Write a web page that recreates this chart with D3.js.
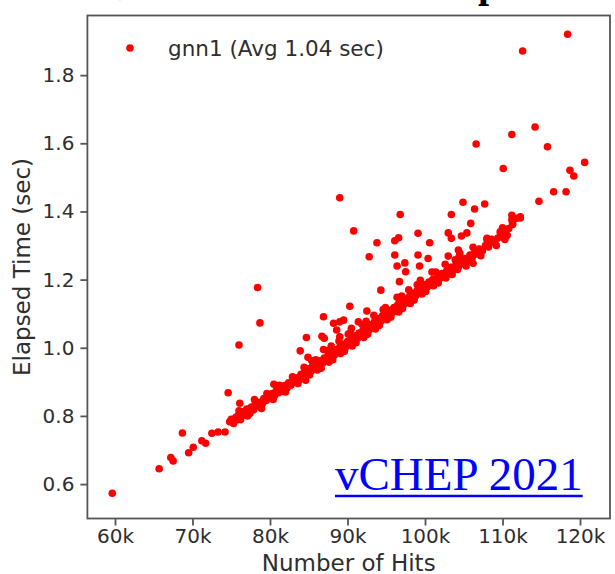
<!DOCTYPE html>
<html>
<head>
<meta charset="utf-8">
<script src="https://cdn.jsdelivr.net/npm/d3@7"></script>
<style>
  body { margin: 0; background: #fff; }
  svg { display: block; }
</style>
</head>
<body>
<svg id="chart"></svg>
<script>
const width = 615
const height = 574
const margin = { top: 15.5, right: 5, bottom: 55.5, left: 87.4 }

// number of hits (thousands) and elapsed time (sec)
// sparse points and outliers
const outlierHits = [59.65, 65.7, 67.2, 67.5, 68.7, 69.5, 70.1, 71.2, 71.7, 72.5, 73.3, 74.2, 74.6, 74.8, 75.7, 76.1, 76.6, 77.4,
  76.0, 78.4, 78.7, 90.3, 92.5, 86.9, 88.2, 89.0, 89.5, 88.6, 90.5, 91.4, 84.7, 86.7, 87.0, 89.0, 83.9, 86.9, 84.9, 80.5,
  89.0, 90.8, 96.8, 93.8, 92.8, 96.1, 96.6, 99.1, 100.6, 96.1, 97.4, 97.5, 96.4, 99.1, 99.3, 100.4, 96.7, 94.3,
  103.4, 104.9, 106.4, 107.7, 105.9, 103.0, 103.4, 104.7, 105.4, 103.0, 104.3, 104.5, 106.2, 109.7, 110.3,
  111.2, 111.8, 112.3, 111.3, 108.0, 108.6,
  118.4, 112.6, 114.2, 111.2, 115.8, 106.6, 120.6, 118.7, 119.2, 110.1, 116.6, 118.2, 114.7, 111.2, 112.3]
const outlierTimes = [0.573, 0.645, 0.678, 0.668, 0.750, 0.692, 0.708, 0.727, 0.720, 0.749, 0.753, 0.753, 0.868, 0.783, 0.788, 0.837, 0.802, 0.807,
  1.008, 1.177, 1.073, 1.122, 1.108, 1.091, 1.072, 1.076, 1.081, 1.052, 1.057, 1.076, 1.030, 1.034, 1.028, 1.032, 0.991, 0.995, 0.972, 0.893,
  1.440, 1.343, 1.391, 1.308, 1.267, 1.314, 1.323, 1.336, 1.308, 1.272, 1.249, 1.223, 1.240, 1.272, 1.240, 1.262, 1.194, 1.169,
  1.391, 1.427, 1.407, 1.422, 1.365, 1.337, 1.321, 1.328, 1.337, 1.269, 1.287, 1.277, 1.248, 1.340, 1.318,
  1.375, 1.380, 1.381, 1.365, 1.321, 1.318,
  1.920, 1.871, 1.648, 1.626, 1.590, 1.598, 1.544, 1.521, 1.504, 1.526, 1.458, 1.458, 1.430, 1.389, 1.384]

// the dense band
const bandHits = [75.0, 75.3, 75.6, 75.9, 76.2, 76.5, 76.8, 77.0, 77.3, 77.6, 77.9, 78.1, 78.4, 78.7, 79.0, 79.2, 79.5, 79.8,
  80.0, 80.3, 80.6, 80.8, 81.1, 81.4, 81.6, 81.9, 82.2, 82.4, 82.7, 83.0, 83.2, 83.5, 83.8, 84.0, 84.3, 84.5, 84.8,
  85.0, 85.3, 85.5, 85.8, 86.0, 86.3, 86.5, 86.8, 87.0, 87.3, 87.5, 87.8, 88.0, 88.3, 88.5, 88.8, 89.0, 89.3, 89.5, 89.8,
  90.0, 90.3, 90.5, 90.8, 91.0, 91.3, 91.5, 91.8, 92.0, 92.3, 92.5, 92.8, 93.0, 93.3, 93.5, 93.8, 94.0, 94.3, 94.5, 94.8,
  95.0, 95.3, 95.5, 95.8, 96.0, 96.3, 96.5, 96.8, 97.0, 97.3, 97.5, 97.8, 98.0, 98.3, 98.5, 98.8, 99.0, 99.3, 99.5, 99.8,
  100.0, 100.3, 100.5, 100.8, 101.0, 101.3, 101.6, 101.9, 102.2, 102.5, 102.8, 103.1, 103.4, 103.7, 104.0, 104.3, 104.6, 104.9,
  105.2, 105.5, 105.8, 106.1, 106.4, 106.7, 107.0, 107.4, 107.8, 108.2, 108.6, 109.0, 109.4, 109.8, 110.3, 110.8, 111.3,
  76.0, 77.1, 78.0, 78.9, 79.6, 80.4, 81.2, 82.0, 82.9, 83.6, 84.4, 85.1, 85.9, 86.6, 87.4, 88.1, 88.9, 89.6, 90.4, 91.1,
  91.9, 92.6, 93.4, 94.1, 94.9, 95.6, 96.4, 97.1, 97.9, 98.6, 99.4, 100.1, 100.9, 101.7, 102.6, 103.5, 104.4, 105.3,
  106.2, 107.2, 108.0, 109.2, 110.0, 110.6,
  84.6, 86.1, 87.6, 89.1, 90.6, 92.1, 93.6, 95.1, 96.6, 98.1, 99.6, 101.1, 102.7, 104.2,
  85.4, 87.9, 90.1, 92.4, 94.6, 97.0, 99.0, 101.4, 103.9]
const bandTimes = [0.790, 0.778, 0.796, 0.801, 0.789, 0.812, 0.805, 0.820, 0.812, 0.826, 0.818, 0.835, 0.829, 0.840, 0.835, 0.851, 0.845, 0.858,
  0.852, 0.866, 0.860, 0.874, 0.868, 0.880, 0.872, 0.889, 0.882, 0.897, 0.890, 0.905, 0.899, 0.912, 0.906, 0.922, 0.915, 0.930, 0.923,
  0.938, 0.931, 0.946, 0.940, 0.953, 0.947, 0.962, 0.955, 0.970, 0.963, 0.978, 0.970, 0.986, 0.979, 0.994, 0.987, 1.002, 0.995, 1.010, 1.003,
  1.018, 1.011, 1.027, 1.019, 1.035, 1.028, 1.043, 1.036, 1.051, 1.044, 1.060, 1.052, 1.068, 1.061, 1.077, 1.069, 1.085, 1.078, 1.094, 1.087,
  1.101, 1.095, 1.110, 1.103, 1.118, 1.111, 1.127, 1.120, 1.135, 1.128, 1.143, 1.137, 1.151, 1.145, 1.160, 1.153, 1.168, 1.162, 1.176, 1.170,
  1.185, 1.178, 1.193, 1.187, 1.200, 1.194, 1.209, 1.203, 1.218, 1.211, 1.226, 1.220, 1.236, 1.229, 1.244, 1.238, 1.254, 1.247,
  1.262, 1.256, 1.272, 1.265, 1.281, 1.275, 1.290, 1.284, 1.300, 1.296, 1.312, 1.308, 1.322, 1.330, 1.338, 1.350, 1.362,
  0.815, 0.800, 0.848, 0.822, 0.866, 0.848, 0.890, 0.870, 0.915, 0.895, 0.943, 0.920, 0.965, 0.940, 0.992, 0.965, 1.020, 0.990, 1.045, 1.015,
  1.068, 1.040, 1.095, 1.065, 1.118, 1.090, 1.148, 1.115, 1.170, 1.140, 1.198, 1.165, 1.222, 1.190, 1.245, 1.215, 1.268, 1.240,
  1.295, 1.270, 1.318, 1.300, 1.352, 1.330,
  0.905, 0.935, 0.958, 0.983, 1.005, 1.030, 1.055, 1.082, 1.105, 1.130, 1.158, 1.182, 1.205, 1.230,
  0.962, 1.005, 1.040, 1.078, 1.112, 1.152, 1.185, 1.222, 1.258]

const xTicks = [60000, 70000, 80000, 90000, 100000, 110000, 120000]
const yTicks = [0.6, 0.8, 1.0, 1.2, 1.4, 1.6, 1.8]
const legendLabel = 'gnn1 (Avg 1.04 sec)'
const xLabel = 'Number of Hits'
const yLabel = 'Elapsed Time (sec)'
const stamp = 'vCHEP 2021'

const points = outlierHits.map((h, i) => ({ hits: h * 1000, time: outlierTimes[i] }))
  .concat(bandHits.map((h, i) => ({ hits: h * 1000, time: bandTimes[i] })))

const svg = d3.select('#chart')
  .attr('width', width)
  .attr('height', height)

const x = d3.scaleLinear()
  .domain([56440, 123870])
  .range([margin.left, width - margin.right])

const y = d3.scaleLinear()
  .domain([0.499, 1.975])
  .range([height - margin.bottom, margin.top])

const textColor = '#2e2e2e'
const axisColor = '#555'

// cut-off slide title above the plot (only the descenders show)
svg.append('text')
  .attr('x', 118).attr('y', -6)
  .attr('font-family', 'Liberation Serif')
  .attr('font-size', 40)
  .attr('fill', '#000')
  .text(',')
svg.append('text')
  .attr('x', 478).attr('y', -3)
  .attr('font-family', 'Liberation Serif')
  .attr('font-size', 40)
  .attr('font-weight', 'bold')
  .attr('fill', '#000')
  .text('p')

// points
svg.append('g')
  .selectAll('circle')
  .data(points)
  .enter()
  .append('circle')
  .attr('cx', d => x(d.hits))
  .attr('cy', d => y(d.time))
  .attr('r', 3.8)
  .attr('fill', '#f00')

// axes
const xAxis = svg.append('g')
  .attr('transform', `translate(0, ${height - margin.bottom})`)
  .call(d3.axisBottom(x).tickValues(xTicks).tickSize(7).tickPadding(3).tickFormat(d => d / 1000 + 'k'))
const yAxis = svg.append('g')
  .attr('transform', `translate(${margin.left}, 0)`)
  .call(d3.axisLeft(y).tickValues(yTicks).tickSize(7).tickPadding(6).tickFormat(d3.format('.1f')))

;[xAxis, yAxis].forEach(a => {
  a.select('.domain').remove()
  a.selectAll('.tick line').attr('stroke', axisColor).attr('stroke-width', 1.8)
  a.selectAll('.tick text')
    .attr('fill', textColor)
    .attr('font-family', 'DejaVu Sans')
    .attr('font-size', 20)
})

// frame
svg.append('rect')
  .attr('x', margin.left)
  .attr('y', margin.top)
  .attr('width', width - margin.right - margin.left)
  .attr('height', height - margin.bottom - margin.top)
  .attr('fill', 'none')
  .attr('stroke', axisColor)
  .attr('stroke-width', 1.8)

// axis labels
svg.append('text')
  .attr('x', (margin.left + width - margin.right) / 2)
  .attr('y', 571)
  .attr('text-anchor', 'middle')
  .attr('font-family', 'DejaVu Sans')
  .attr('font-size', 23)
  .attr('fill', textColor)
  .text(xLabel)

svg.append('text')
  .attr('transform', `translate(30, ${(margin.top + height - margin.bottom) / 2}) rotate(-90)`)
  .attr('text-anchor', 'middle')
  .attr('font-family', 'DejaVu Sans')
  .attr('font-size', 23)
  .attr('fill', textColor)
  .text(yLabel)

// legend
const legend = svg.append('g')
  .attr('transform', 'translate(130, 48)')
legend.append('circle')
  .attr('r', 3.8)
  .attr('fill', '#f00')
legend.append('text')
  .attr('x', 38)
  .attr('dy', '0.35em')
  .attr('font-family', 'DejaVu Sans')
  .attr('font-size', 21.5)
  .attr('fill', textColor)
  .text(legendLabel)

// conference stamp
const stampText = svg.append('text')
  .attr('x', 335)
  .attr('y', 490)
  .attr('font-family', 'Liberation Serif')
  .attr('font-size', 47)
  .attr('fill', '#00f')
  .text(stamp)
const stampLen = stampText.node().getComputedTextLength()
svg.append('line')
  .attr('x1', 335)
  .attr('x2', 335 + stampLen)
  .attr('y1', 496)
  .attr('y2', 496)
  .attr('stroke', '#00f')
  .attr('stroke-width', 2.5)
</script>
</body>
</html>
